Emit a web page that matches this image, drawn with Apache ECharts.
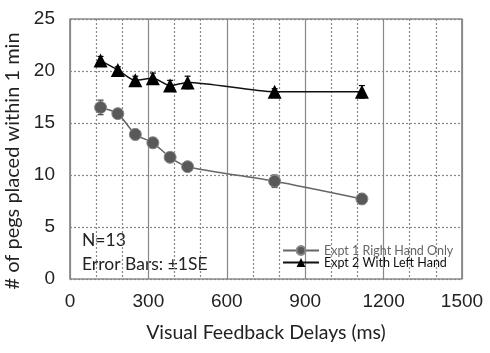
<!DOCTYPE html>
<html>
<head>
<meta charset="utf-8">
<script src="https://cdn.jsdelivr.net/npm/echarts@6/dist/echarts.min.js"></script>
<style>
	html, body { margin: 0; padding: 0; background: #fff; }
	#chart { width: 490px; height: 353px; }
</style>
</head>
<body>
<div id="chart"></div>
<script>
	// delays (ms)
	const delays = [117, 183, 250, 317, 383, 450, 783, 1117]
	// Expt 1 right hand only
	const rightHand = [16.5, 15.9, 13.9, 13.1, 11.7, 10.8, 9.4, 7.7]
	const rightSE = [0.7, 0.4, 0.5, 0.5, 0.4, 0.3, 0.6, 0.5]
	// Expt 2 with left hand
	const leftHand = [21.0, 20.1, 19.1, 19.3, 18.6, 18.9, 18.0, 18.0]
	const leftSE = [0.4, 0.3, 0.4, 0.5, 0.5, 0.6, 0.3, 0.6]

	const xTicks = [0, 300, 600, 900, 1200, 1500]
	const yTicks = [0, 5, 10, 15, 20, 25]

	const pairs = (ys) => delays.map((d, i) => [d, ys[i]])
	const errData = (ys, se) => delays.map((d, i) => [d, ys[i], se[i]])

	// error bar drawn through the axis scales
	const errorBar = (color) => function (params, api) {
		const x = api.value(0)
		const y = api.value(1)
		const s = api.value(2)
		const lo = api.coord([x, y - s])
		const hi = api.coord([x, y + s])
		const w = 3
		const st = { stroke: color, lineWidth: 1.2 }
		return {
			type: 'group',
			children: [
				{ type: 'line', shape: { x1: lo[0], y1: lo[1], x2: hi[0], y2: hi[1] }, style: st },
				{ type: 'line', shape: { x1: lo[0] - w, y1: lo[1], x2: lo[0] + w, y2: lo[1] }, style: st },
				{ type: 'line', shape: { x1: hi[0] - w, y1: hi[1], x2: hi[0] + w, y2: hi[1] }, style: st }
			]
		}
	}

	const chart = echarts.init(document.getElementById('chart'))

	const option = {
		animation: false,
		grid: {
			left: 70,
			right: 28,
			top: 19,
			bottom: 74,
			containLabel: false,
			outerBoundsMode: 'none',
			show: true,
			borderColor: '#555',
			borderWidth: 1.2
		},
		legend: {
			left: 277,
			top: 239,
			orient: 'vertical',
			itemWidth: 36,
			itemHeight: 11,
			itemGap: -1,
			textStyle: { fontFamily: 'Lato', fontSize: 12.5 },
			data: [
				{ name: 'Expt 1 Right Hand Only', textStyle: { color: '#666' } },
				{ name: 'Expt 2 With Left Hand', textStyle: { color: '#111' } }
			]
		},
		xAxis: {
			type: 'value',
			min: 0,
			max: 1500,
			interval: 300,
			name: 'Visual Feedback Delays (ms)',
			nameLocation: 'middle',
			nameGap: 44,
			nameTextStyle: { fontFamily: 'Lato', fontSize: 19.5, color: '#222' },
			axisLine: { show: false },
			axisTick: { show: false },
			axisLabel: {
				fontFamily: 'Liberation Sans',
				fontSize: 19,
				color: '#222',
				margin: 13,
				formatter: (v) => String(v)
			},
			splitLine: { show: true, lineStyle: { color: '#888', width: 1.2 } },
			minorTick: { show: false, splitNumber: 3 },
			minorSplitLine: { show: true, lineStyle: { color: '#888', type: [2, 2], width: 1.2 } }
		},
		yAxis: {
			type: 'value',
			min: 0,
			max: 25,
			interval: 5,
			name: '# of pegs placed within 1 min',
			nameLocation: 'middle',
			nameGap: 46,
			nameTextStyle: { fontFamily: 'Lato', fontSize: 20, color: '#222', padding: [0, 24, 0, 0] },
			axisLine: { show: false },
			axisTick: { show: false },
			axisLabel: { fontFamily: 'Liberation Sans', fontSize: 19, color: '#222', margin: 15 },
			splitLine: { show: true, lineStyle: { color: '#888', type: [2, 2], width: 1.2 } }
		},
		graphic: [
			{
				type: 'text',
				left: 82,
				top: 231,
				style: { text: 'N=13', font: '17.5px Lato', fill: '#222' }
			},
			{
				type: 'text',
				left: 82,
				top: 255,
				style: { text: 'Error Bars: ±1SE', font: '17.5px Lato', fill: '#222' }
			}
		],
		series: [
			{
				type: 'custom',
				name: 'err1',
				data: errData(rightHand, rightSE),
				renderItem: errorBar('#444'),
				z: 3
			},
			{
				type: 'custom',
				name: 'err2',
				data: errData(leftHand, leftSE),
				renderItem: errorBar('#000'),
				z: 3
			},
			{
				name: 'Expt 1 Right Hand Only',
				type: 'line',
				data: pairs(rightHand),
				smooth: 0.25,
				symbol: 'circle',
				symbolSize: 12,
				lineStyle: { color: '#666', width: 1.5 },
				itemStyle: { color: '#595959', borderColor: '#888', borderWidth: 1 },
				z: 4
			},
			{
				name: 'Expt 2 With Left Hand',
				type: 'line',
				data: pairs(leftHand),
				smooth: 0.25,
				symbol: 'triangle',
				symbolSize: 14,
				lineStyle: { color: '#111', width: 1.5 },
				itemStyle: { color: '#000' },
				z: 4
			}
		]
	}

	chart.setOption(option)
</script>
</body>
</html>
